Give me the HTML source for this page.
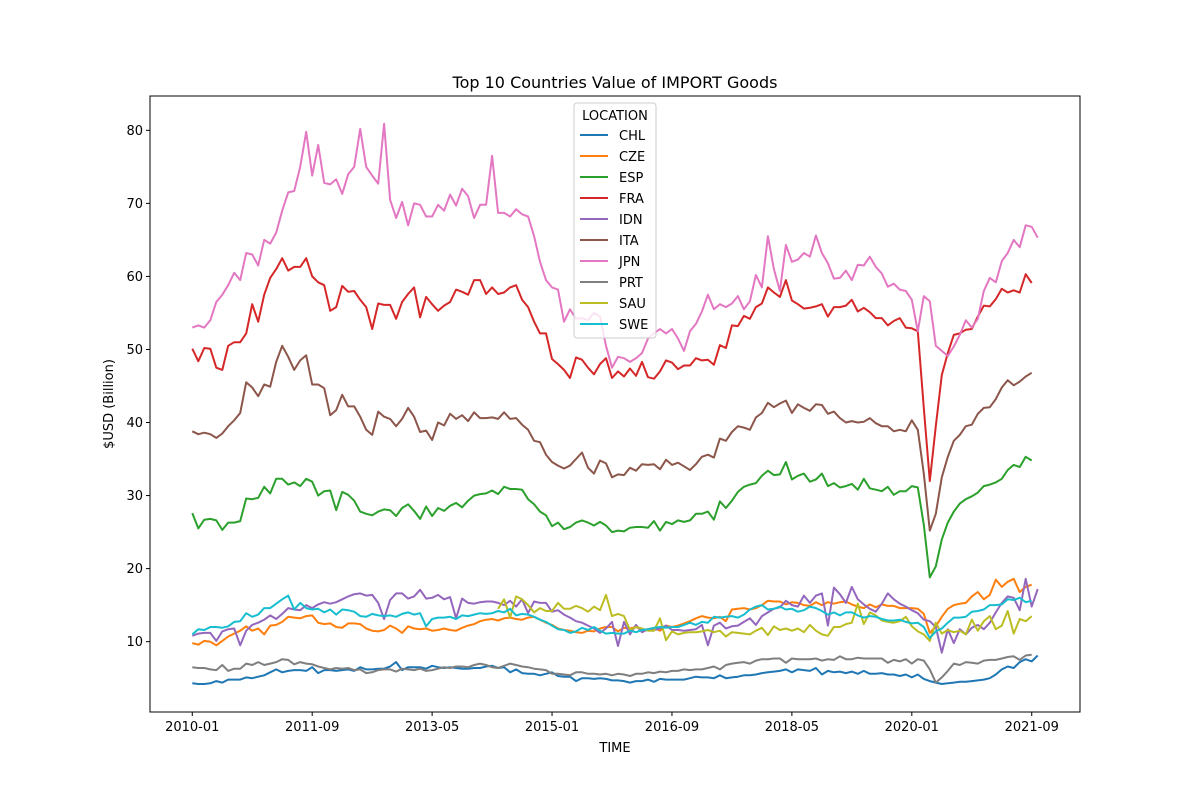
<!DOCTYPE html>
<html><head><meta charset="utf-8"><style>
body{margin:0;background:#fff;}
svg{display:block;font-family:"DejaVu Sans","Liberation Sans",sans-serif;}
</style></head><body>
<svg id="chart" width="1200" height="800" viewBox="0 0 1200 800" xmlns="http://www.w3.org/2000/svg">
<rect width="1200" height="800" fill="#fff"/>
<text x="615" y="88" text-anchor="middle" font-size="16">Top 10 Countries Value of IMPORT Goods</text>
<text x="615" y="752" text-anchor="middle" font-size="13">TIME</text>
<text x="113" y="404" text-anchor="middle" font-size="13" transform="rotate(-90 113 404)">$USD (Billion)</text>
<g id="plot"></g>
<rect x="150" y="96" width="930" height="616" fill="none" stroke="#000" stroke-width="1"/>
<g id="legend"></g>
</svg>
<script>
const tickLabels=["2010-01","2011-09","2013-05","2015-01","2016-09","2018-05","2020-01","2021-09"];
const yTicks=[10,20,30,40,50,60,70,80];
const countries=["CHL","CZE","ESP","FRA","IDN","ITA","JPN","PRT","SAU","SWE"];
const colors=["#1f77b4","#ff7f0e","#2ca02c","#d62728","#9467bd","#8c564b","#e377c2","#7f7f7f","#bcbd22","#17becf"];
const CHL=[4.3,4.2,4.2,4.3,4.6,4.4,4.8,4.8,4.8,5.1,5.0,5.2,5.4,5.8,6.2,5.8,6.0,6.1,6.1,6.0,6.5,5.7,6.1,6.1,6.0,6.1,6.2,6.0,6.5,6.2,6.2,6.3,6.3,6.6,7.2,6.1,6.5,6.5,6.5,6.3,6.7,6.5,6.4,6.5,6.4,6.3,6.3,6.4,6.4,6.6,6.7,6.4,6.5,5.8,6.2,5.7,5.6,5.6,5.4,5.6,5.8,5.3,5.2,5.2,4.6,5.0,5.0,4.9,5.0,4.9,4.7,4.7,4.6,4.4,4.6,4.6,4.8,4.5,4.9,4.8,4.8,4.8,4.8,5.0,5.2,5.1,5.1,5.0,5.4,5.0,5.1,5.2,5.4,5.4,5.5,5.7,5.8,5.9,6.0,6.2,5.8,6.2,6.1,6.0,6.4,5.5,6.0,5.8,5.9,5.7,5.9,5.6,6.0,5.6,5.6,5.7,5.5,5.5,5.3,5.5,5.1,5.5,4.9,4.6,4.4,4.2,4.3,4.4,4.5,4.5,4.6,4.7,4.8,5.0,5.5,6.2,6.6,6.4,7.2,7.6,7.3,8.1];
const CZE=[9.8,9.6,10.1,10.0,9.5,10.1,10.7,11.1,11.5,12.1,11.5,11.8,11.0,12.2,12.3,12.7,13.4,13.3,13.2,13.5,13.6,12.6,12.4,12.5,12.0,11.9,12.5,12.5,12.4,11.8,11.5,11.4,11.6,12.2,11.8,11.2,12.1,11.8,11.7,11.8,11.5,11.6,11.8,11.6,11.5,11.9,12.2,12.4,12.8,13.0,13.1,12.9,13.2,13.3,13.1,13.0,13.3,13.4,13.0,12.6,12.3,11.8,11.6,11.5,11.3,11.2,11.5,11.4,11.8,12.0,12.0,11.4,11.9,11.8,12.0,11.6,11.7,11.9,11.5,12.2,12.0,12.2,12.5,12.8,13.2,13.5,13.3,13.2,13.4,12.8,14.4,14.5,14.6,14.4,14.6,15.0,15.6,15.5,15.5,15.1,15.4,15.3,15.0,14.9,15.4,15.0,15.4,15.2,15.4,15.5,15.1,14.8,14.6,15.1,14.7,15.1,14.9,14.9,14.6,14.6,14.6,14.5,13.8,11.2,12.1,13.4,14.5,15.0,15.2,15.3,16.2,16.8,15.8,16.4,18.5,17.5,18.2,18.6,16.8,17.5,17.8];
const ESP=[27.6,25.5,26.7,26.8,26.6,25.3,26.3,26.3,26.5,29.6,29.5,29.7,31.2,30.3,32.3,32.3,31.5,31.8,31.3,32.3,31.9,30.0,30.6,30.7,28.0,30.5,30.1,29.3,27.8,27.5,27.3,27.8,28.1,28.0,27.2,28.3,28.8,27.9,26.8,28.5,27.2,28.3,27.9,28.6,29.0,28.4,29.3,30.0,30.2,30.3,30.7,30.2,31.2,30.9,30.9,30.8,29.5,28.8,27.8,27.3,25.8,26.3,25.4,25.7,26.3,26.6,26.3,25.9,26.4,25.9,25.0,25.2,25.1,25.6,25.7,25.7,25.6,26.5,25.2,26.4,26.1,26.6,26.4,26.6,27.5,27.5,27.8,26.7,29.2,28.3,29.3,30.5,31.2,31.5,31.7,32.7,33.4,32.8,32.9,34.6,32.2,32.7,33.0,31.9,32.2,33.0,31.3,31.7,31.1,31.3,31.6,30.8,32.3,31.0,30.8,30.6,31.2,30.1,30.6,30.6,31.3,31.1,26.0,18.8,20.3,24.0,26.3,27.8,28.9,29.5,29.9,30.4,31.3,31.5,31.8,32.3,33.5,34.2,33.9,35.3,34.8];
const FRA=[50.1,48.4,50.2,50.1,47.5,47.2,50.5,51.0,51.0,52.2,56.2,53.8,57.5,59.8,61.0,62.5,60.8,61.3,61.3,62.5,60.0,59.2,58.8,55.3,55.8,58.7,57.9,58.0,56.8,55.8,52.8,56.3,56.1,56.1,54.2,56.5,57.6,58.5,54.4,57.2,56.2,55.3,56.0,56.5,58.2,57.9,57.5,59.5,59.5,57.6,58.5,57.6,57.8,58.5,58.8,56.8,55.8,53.8,52.2,52.2,48.7,48.0,47.2,46.1,48.9,48.6,47.5,46.6,48.0,48.8,46.1,47.0,46.3,47.4,46.4,48.3,46.2,46.0,47.0,48.5,48.2,47.3,47.8,47.8,48.8,48.5,48.6,47.9,50.6,50.2,53.3,53.2,54.6,54.2,55.8,56.3,58.5,57.8,57.2,59.5,56.7,56.2,55.6,55.7,55.9,56.2,54.5,55.8,55.8,56.0,56.8,55.2,55.7,55.1,54.3,54.3,53.3,53.9,54.3,53.0,52.9,52.5,42.0,32.0,39.5,46.5,49.5,52.0,52.2,52.7,52.8,54.5,56.0,55.9,56.9,58.3,57.8,58.1,57.8,60.3,59.1];
const IDN=[10.8,11.1,11.2,11.2,10.1,11.4,11.7,11.8,9.5,11.5,12.3,12.6,13.0,13.6,13.1,13.8,14.6,14.4,14.3,15.0,14.6,15.1,15.4,15.2,15.4,15.8,16.2,16.5,16.6,16.3,16.4,15.3,13.1,15.7,16.6,16.6,15.9,16.2,17.1,15.9,16.0,16.4,15.8,16.1,13.2,15.9,15.3,15.2,15.4,15.5,15.5,15.3,15.0,15.6,14.8,15.8,13.9,15.5,15.3,15.3,14.1,14.3,13.7,13.3,12.8,12.6,12.2,11.8,11.2,11.8,12.7,9.4,12.7,11.0,12.3,11.3,11.7,11.6,11.8,12.2,11.6,11.6,11.5,11.6,11.7,12.3,9.5,12.2,12.6,11.8,12.1,12.2,12.7,13.2,12.3,13.5,14.0,14.5,14.7,15.6,15.0,14.8,16.3,15.3,16.3,16.6,12.2,17.4,16.5,15.3,17.5,15.8,15.1,14.5,14.1,15.2,16.6,15.8,15.2,14.8,14.3,13.9,13.0,12.8,12.0,8.5,11.7,9.8,11.7,11.0,11.9,12.3,11.7,12.6,14.0,15.3,16.2,16.0,14.3,18.6,14.8,17.2];
const ITA=[38.8,38.4,38.6,38.4,37.9,38.5,39.5,40.3,41.3,45.5,44.8,43.6,45.2,44.9,48.3,50.5,49.0,47.2,48.5,49.2,45.2,45.2,44.7,41.0,41.7,43.8,42.2,42.2,40.8,39.0,38.3,41.5,40.8,40.5,39.5,40.5,42.0,40.8,38.7,38.9,37.6,40.0,39.6,41.2,40.5,41.0,40.2,41.4,40.6,40.6,40.7,40.5,41.4,40.5,40.6,39.7,39.0,37.5,37.3,35.6,34.6,34.1,33.7,34.1,35.0,35.9,33.8,33.0,34.8,34.4,32.5,32.9,32.8,33.8,33.4,34.3,34.2,34.3,33.6,34.9,34.2,34.5,34.0,33.5,34.3,35.3,35.6,35.2,37.8,37.5,38.7,39.5,39.3,39.0,40.7,41.3,42.7,42.1,42.6,43.0,41.3,42.5,42.0,41.6,42.5,42.4,41.2,41.5,40.6,40.0,40.2,40.0,40.1,40.6,39.9,39.5,39.5,38.8,39.0,38.8,40.3,39.0,33.0,25.2,27.5,32.5,35.3,37.5,38.3,39.5,39.7,41.2,42.0,42.1,43.2,44.8,45.8,45.1,45.6,46.3,46.8];
const JPN=[53.0,53.3,53.0,54.0,56.5,57.5,58.8,60.5,59.5,63.2,63.0,61.5,65.0,64.5,66.0,69.0,71.5,71.7,75.0,79.8,73.8,78.0,72.8,72.6,73.3,71.3,74.0,75.0,80.2,75.0,73.8,72.7,80.9,70.5,68.0,70.2,67.0,70.0,69.8,68.2,68.2,69.8,69.0,71.2,69.7,72.0,71.0,68.0,69.8,69.8,76.5,68.7,68.7,68.2,69.2,68.5,68.2,65.5,62.0,59.5,58.5,58.2,53.8,55.5,54.2,54.3,54.0,55.0,54.5,50.5,47.5,49.0,48.8,48.3,48.8,49.5,51.5,52.2,52.8,52.2,52.8,51.5,49.8,52.5,53.5,55.2,57.5,55.5,56.2,55.8,56.3,57.3,55.5,56.6,60.2,58.5,65.5,61.0,58.0,64.3,62.0,62.3,63.2,62.7,65.6,63.2,61.8,59.7,59.8,60.8,59.5,61.6,61.5,62.7,61.3,60.4,58.6,59.0,58.2,58.0,56.8,52.5,57.3,56.6,50.5,49.8,49.1,50.4,52.0,54.0,53.0,54.2,58.0,59.8,59.2,62.1,63.2,65.0,64.0,67.0,66.8,65.3];
const PRT=[6.5,6.4,6.4,6.2,6.1,6.8,6.0,6.3,6.3,7.0,6.8,7.2,6.8,7.0,7.2,7.6,7.5,6.9,7.2,7.0,6.9,6.6,6.4,6.2,6.4,6.3,6.4,6.1,6.2,5.7,5.8,6.1,6.2,6.2,5.9,6.3,6.2,6.1,6.3,6.0,6.1,6.3,6.5,6.4,6.6,6.6,6.5,6.8,7.0,6.8,6.5,6.4,6.7,7.0,6.8,6.6,6.5,6.3,6.2,6.1,5.6,5.6,5.5,5.4,5.8,5.8,5.6,5.6,5.5,5.6,5.4,5.6,5.5,5.3,5.6,5.6,5.8,5.7,5.9,5.8,6.0,6.0,6.2,6.1,6.2,6.2,6.4,6.6,6.2,6.8,7.0,7.1,7.2,7.0,7.4,7.6,7.6,7.7,7.7,7.1,7.7,7.6,7.6,7.6,7.7,7.4,7.6,7.5,8.0,7.6,7.6,7.8,7.7,7.7,7.7,7.7,7.1,7.5,7.3,7.6,7.0,7.6,7.4,6.2,4.4,5.1,6.0,7.0,6.8,7.2,7.1,7.0,7.4,7.5,7.5,7.7,7.9,8.0,7.5,8.1,8.2];
const SAU_START=51;
const SAU=[14.5,15.8,13.3,16.2,15.8,15.0,14.0,14.6,14.2,14.2,15.3,14.5,14.5,14.9,14.6,14.1,14.8,14.3,16.4,13.5,13.8,13.5,11.6,12.0,11.8,11.5,11.5,13.2,10.2,11.4,11.0,11.2,11.3,11.3,11.4,11.6,11.3,11.5,10.7,11.3,11.2,11.1,11.0,11.5,11.9,10.9,12.1,11.6,11.8,11.5,11.8,11.3,12.3,11.5,11.0,10.8,12.0,12.0,12.4,12.6,15.2,12.4,14.0,13.6,12.9,12.7,12.6,12.8,13.4,12.1,11.4,11.0,10.1,12.6,11.1,11.6,11.3,11.5,11.0,13.0,11.5,12.8,13.5,11.7,12.2,14.2,11.1,13.1,12.8,13.5];
const SWE=[11.0,11.7,11.6,12.0,12.0,11.9,12.1,12.7,12.8,13.9,13.4,13.7,14.6,14.6,15.2,15.8,16.3,14.4,15.3,14.6,14.4,14.5,14.0,14.4,13.7,14.4,14.3,14.1,13.5,13.4,13.8,13.6,13.5,13.6,13.4,13.8,14.0,13.7,13.9,12.1,13.1,13.3,13.3,13.4,13.1,13.6,13.5,13.7,13.9,13.8,13.9,14.2,14.0,14.5,13.6,13.8,13.7,13.4,13.0,12.7,12.2,11.7,11.6,11.2,11.4,11.9,11.6,12.0,11.5,11.1,11.2,11.1,11.1,11.5,11.3,11.6,11.7,11.9,12.0,11.9,12.0,12.0,12.3,12.6,12.3,12.7,12.6,13.4,13.3,13.4,13.5,13.3,13.7,14.4,14.8,15.0,14.4,14.5,14.8,14.4,14.5,14.1,14.3,14.8,14.6,14.2,13.7,14.0,13.6,14.0,14.0,13.6,13.3,13.5,13.4,13.1,12.9,12.9,13.0,12.7,12.5,12.6,12.0,10.5,11.4,11.8,12.6,13.3,13.3,13.4,14.1,14.2,14.4,15.0,15.0,15.1,15.8,15.7,16.0,15.4,15.6];

const NS="http://www.w3.org/2000/svg";
const N=142, X0=150, X1=1080, Y0=712, Y1=96;
const xmin=-0.05*(N-1), xmax=(N-1)*1.05;
const ymin=0.37, ymax=84.7;
function xs(i){return X0+(i-xmin)/(xmax-xmin)*(X1-X0);}
function ys(v){return Y0-(v-ymin)/(ymax-ymin)*(Y0-Y1);}
function mk(t,a,p){const e=document.createElementNS(NS,t);for(const k in a)e.setAttribute(k,a[k]);(p||plot).appendChild(e);return e;}
const plot=document.getElementById('plot');
const legend=document.getElementById('legend');

yTicks.forEach(v=>{
  const y=ys(v);
  const t=mk('line',{x1:X0-4,x2:X0,y1:y,y2:y,stroke:'#000'});
  
  
  const l=mk('text',{x:X0-7,y:y+4.5,'text-anchor':'end','font-size':13});
  
  
  l.textContent=v;
});
tickLabels.forEach((s,k)=>{
  const x=xs(k*20);
  const t=mk('line',{x1:x,x2:x,y1:Y0,y2:Y0+4,stroke:'#000'});
  
  
  const l=mk('text',{x:x,y:Y0+19,'text-anchor':'middle','font-size':13});
  
  
  l.textContent=s;
});

const seriesData=[CHL,CZE,ESP,FRA,IDN,ITA,JPN,PRT,SAU,SWE];
seriesData.forEach((arr,si)=>{
  const off=countries[si]==="SAU"?SAU_START:0;
  const pts=arr.map((v,i)=>xs(i+off).toFixed(1)+','+ys(v).toFixed(1)).join(' ');
  const p=mk('polyline',{points:pts,fill:'none',stroke:colors[si],'stroke-width':2,'stroke-linejoin':'round'});
  
  
});

const box=mk('rect',{x:574,y:103,width:82,height:235,rx:3,fill:'#fff','fill-opacity':0.8,stroke:'#ccc'},legend);


const lt=mk('text',{x:615,y:120,'text-anchor':'middle','font-size':13},legend);


lt.textContent='LOCATION';
countries.forEach((c,i)=>{
  const y=135+i*21;
  const ln=mk('line',{x1:580,x2:608,y1:y,y2:y,stroke:colors[i],'stroke-width':2},legend);
  
  
  const tx=mk('text',{x:619,y:y+5,'font-size':13},legend);
  
  
  tx.textContent=c;
});
</script>
</body></html>
